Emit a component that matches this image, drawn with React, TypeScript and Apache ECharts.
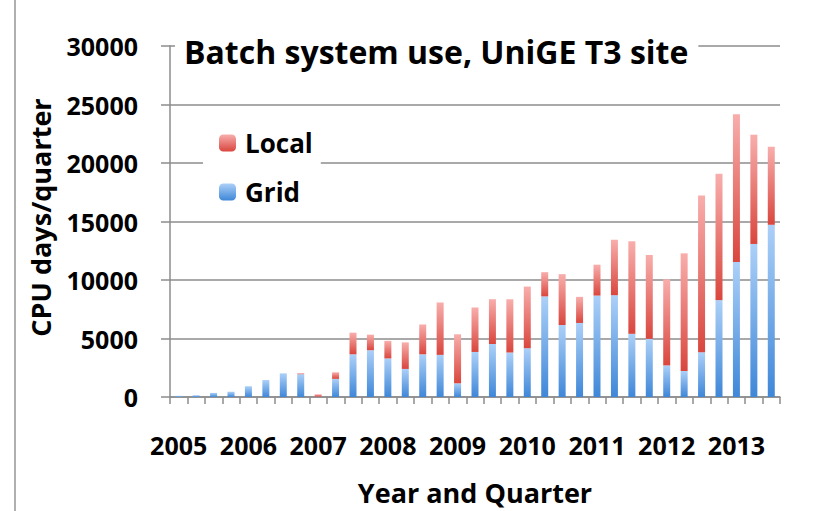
import React, { useEffect, useRef } from "react";
import * as echarts from "echarts";

const years = ["2005", "2006", "2007", "2008", "2009", "2010", "2011", "2012", "2013"];
const quarters = ["Q1", "Q2", "Q3", "Q4"];
const categories: string[] = [];
years.forEach((y) => quarters.forEach((q) => categories.push(y + " " + q)));
categories.length = 35; // 2005 Q1 .. 2013 Q3

const gridValues = [
  100, 150, 350, 450, 920, 1450, 2020, 1950, 30, 1550,
  3650, 4000, 3300, 2400, 3650, 3600, 1170, 3850, 4530, 3800,
  4170, 8600, 6150, 6330, 8670, 8700, 5400, 4970, 2700, 2220,
  3830, 8280, 11530, 13080, 14720,
];
const localValues = [
  0, 0, 0, 0, 0, 0, 0, 80, 200, 560,
  1850, 1330, 1500, 2270, 2550, 4480, 4190, 3800, 3830, 4560,
  5270, 2070, 4350, 2230, 2640, 4740, 7910, 7170, 7360, 10060,
  13390, 10800, 12640, 9340, 6670,
];
const yTicks = { min: 0, max: 30000, interval: 5000 };

const FONT = "Open Sans";

export default function App() {
  const ref = useRef<HTMLDivElement>(null);
  useEffect(() => {
    if (!ref.current) return;
    const chart = echarts.init(ref.current, undefined, { renderer: "svg" });
    const blue = new echarts.graphic.LinearGradient(0, 0, 0, 1, [
      { offset: 0, color: "#acd0f8" },
      { offset: 1, color: "#3f87d8" },
    ]);
    const red = new echarts.graphic.LinearGradient(0, 0, 0, 1, [
      { offset: 0, color: "#f8aeac" },
      { offset: 1, color: "#d9463e" },
    ]);
    chart.setOption({
      animation: false,
      backgroundColor: "#ffffff",
      textStyle: { fontFamily: FONT },
      title: {
        text: "Batch system use, UniGE T3 site",
        left: 175,
        top: 31,
        padding: [4, 10, 6, 9],
        backgroundColor: "#ffffff",
        textStyle: { fontFamily: FONT, fontWeight: "bold", fontSize: 32, color: "#000" },
      },
      legend: {
        data: ["Local", "Grid"],
        orient: "vertical",
        left: 203,
        top: 126,
        padding: [4, 8, 4, 16],
        backgroundColor: "#ffffff",
        itemWidth: 17,
        itemHeight: 17,
        itemGap: 23,
        textStyle: { fontFamily: FONT, fontWeight: "bold", fontSize: 26, color: "#000", padding: [0, 0, 0, 4] },
      },
      grid: { left: 170, right: 38, top: 46, height: 360 },
      xAxis: {
        type: "category",
        data: categories,
        boundaryGap: true,
        name: "Year and Quarter",
        nameLocation: "middle",
        nameGap: 82,
        nameTextStyle: { fontFamily: FONT, fontWeight: "bold", fontSize: 27, color: "#000" },
        axisLine: { show: true, lineStyle: { color: "#8c8c8c", width: 1.5 } },
        axisTick: { show: true, interval: 0, length: 7, lineStyle: { color: "#8c8c8c", width: 1.5 } },
        axisLabel: {
          interval: 0,
          margin: 35,
          fontFamily: FONT,
          fontWeight: "bold",
          fontSize: 25,
          color: "#000",
          formatter: (v: string) => (v.endsWith("Q1") ? v.slice(0, 4) : ""),
        },
      },
      yAxis: {
        type: "value",
        min: yTicks.min,
        max: yTicks.max,
        interval: yTicks.interval,
        name: "CPU days/quarter",
        nameLocation: "middle",
        nameGap: 116,
        nameTextStyle: { fontFamily: FONT, fontWeight: "bold", fontSize: 27, color: "#000", padding: [0, 0, 0, 8] },
        axisLine: { show: true, lineStyle: { color: "#8c8c8c", width: 1.5 } },
        axisTick: { show: true, length: 9, lineStyle: { color: "#8c8c8c", width: 1.5 } },
        splitLine: { show: true, lineStyle: { color: "#8c8c8c", width: 1.5 } },
        axisLabel: {
          margin: 32,
          fontFamily: FONT,
          fontWeight: "bold",
          fontSize: 25,
          color: "#000",
          padding: [8, 0, 0, 0],
          formatter: (v: number) => String(v),
        },
      },
      series: [
        {
          name: "Grid",
          type: "bar",
          stack: "total",
          barWidth: 7,
          data: gridValues,
          itemStyle: { color: blue },
        },
        {
          name: "Local",
          type: "bar",
          stack: "total",
          barWidth: 7,
          data: localValues,
          itemStyle: { color: red },
        },
      ],
      graphic: [
        {
          type: "line",
          shape: { x1: 15, y1: 0, x2: 15, y2: 511 },
          style: { stroke: "#b0b0b0", lineWidth: 2 },
        },
      ],
    });
    return () => chart.dispose();
  }, []);
  return (
    <div
      ref={ref}
      style={{ position: "fixed", left: 0, top: 0, width: 818, height: 511 }}
    />
  );
}
